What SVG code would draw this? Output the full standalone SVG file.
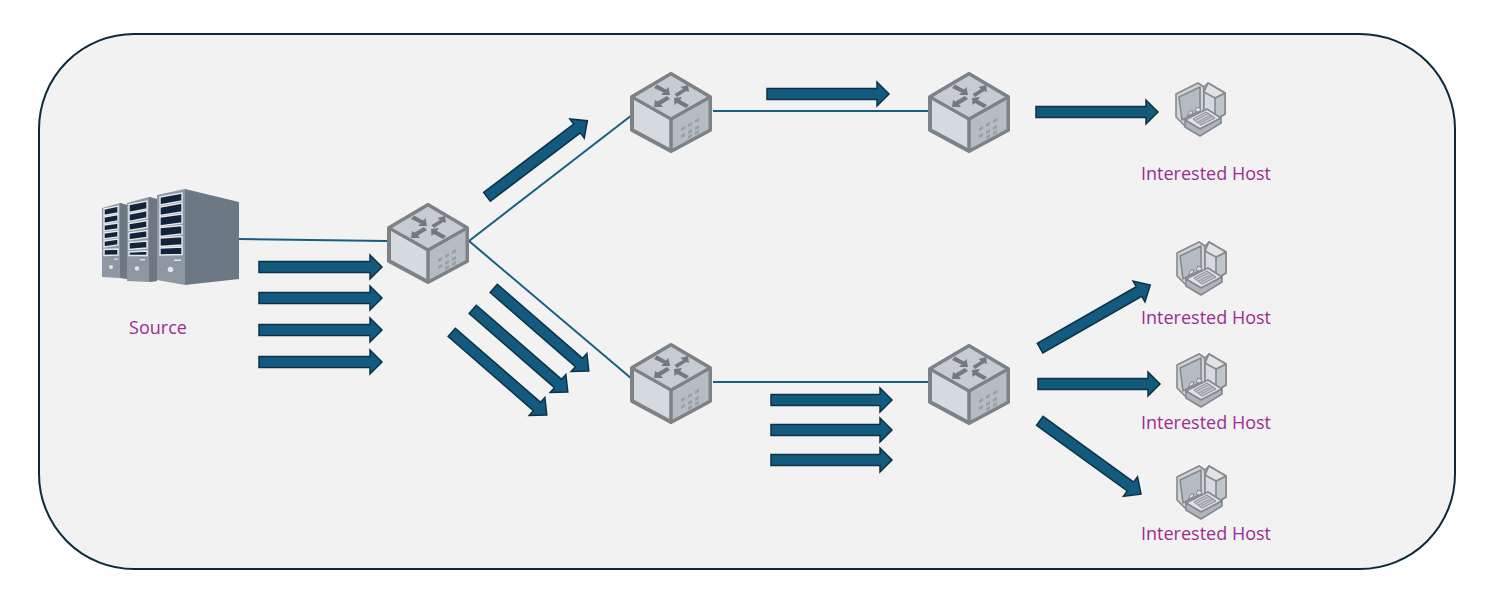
<svg xmlns="http://www.w3.org/2000/svg" xmlns:xlink="http://www.w3.org/1999/xlink" width="1499" height="600" viewBox="0 0 1499 600">
<style>
.link{stroke:#156082;stroke-width:2;fill:none}
.arr{fill:#135a7e;stroke:#0c3345;stroke-width:1.5;stroke-linejoin:miter}
.lbl{font-family:"Open Sans","Liberation Sans",sans-serif;font-size:18px;fill:#a02b93;text-anchor:middle}
.rt{fill:#c9cfd5;stroke:#7d8286;stroke-width:4;stroke-linejoin:round}
.ra{fill:#74797d;stroke:none}
.ho{stroke:#85898d;stroke-width:1.6;stroke-linejoin:round}
.slot{fill:#12233a;stroke:#e6ebef;stroke-width:1.4}
</style>
<defs>
<path id="a" d="M0-5.5H-12V5.5H0V12L12 0L0-12Z" transform="translate(0 0)"/>
<g id="router">
<path class="rt" d="M0 2L-39 25V58L0 79L39 58V25Z" style="fill:#d5dadf"/>
<path d="M0 47L39 25V58L0 79Z" style="fill:#b5bcc3;stroke:#7d8286;stroke-width:3;stroke-linejoin:round"/>
<path d="M0 2L-39 25L0 47L39 25Z" style="fill:#c6ccd2;stroke:#7d8286;stroke-width:3;stroke-linejoin:round"/>
<path d="M-39 25L0 47L39 25M0 47V79" fill="none" stroke="#7d8286" stroke-width="3"/>
<g class="ra">
<path d="M-17 16L-14 12.500L-5 17.500L-2.500 15L-1 23L-10 23L-7.500 20.500Z"/>
<path d="M17 11L18 18L15 17L6 23L3.500 20L12 15L9.500 13Z" transform="translate(0 2)"/>
<path d="M-17 35L-16 28L-13.500 29.500L-4 24L-1 27L-10 32.500L-8 35Z"/>
<path d="M3 26L11 25L9 28L18 33L15 36L6 31L3.500 33Z"/>
</g>
<g fill="#98a0a7"><path d="M10 56l4-2v3l-4 2zM17 52l4-2v3l-4 2zM24 48l4-2v3l-4 2zM10 63l4-2v3l-4 2zM17 59l4-2v3l-4 2zM24 55l4-2v3l-4 2zM17 64l4-2v3l-4 2zM24 60l4-2v3l-4 2z"/></g>
</g>
<g id="host">
<path class="ho" d="M0 11L22 0L28 4L28 33L9 43L0 34Z" fill="#ced3d8"/>
<path class="ho" d="M3 14L24 4V28L6 37Z" fill="#b4bbc2"/>
<path class="ho" d="M28 4L32 0L49 10V31L39 37L28 31Z" fill="#d5dadf"/>
<path class="ho" d="M39 15L49 10V31L39 37Z" fill="#bfc5cb"/>
<path class="ho" d="M32 0L49 10L39 15L28 9Z" fill="#e0e3e6"/>
<path class="ho" d="M9 37L31 26L45 35L24 46Z" fill="#dfe2e5"/>
<path class="ho" d="M9 37L24 46L45 35V40L24 53L9 44Z" fill="#aeb5bc"/>
<path d="M17 36L30 29L39 35L25 42Z" fill="#c2c7cc" stroke="#85898d"/>
<path d="M20 37L33 30M22 39L35 32M24 40L37 33" stroke="#85898d" stroke-width=".8"/>
<path d="M11 33L14 28H17L16 31ZM19 28L21 24L25 26L23 29Z" fill="#dfe2e5" stroke="#85898d"/>
</g>
</defs>

<rect x="39" y="34" width="1416" height="535" rx="95" ry="95" fill="#f2f2f2" stroke="#0e2a3a" stroke-width="2"/>

<g id="connectors">
<path class="link" d="M239 239L387 241"/>
<path class="link" d="M469 241L632 115"/>
<path class="link" d="M469 241L632 379"/>
<path class="link" d="M713 111H928"/>
<path class="link" d="M713 382H928"/>
</g>

<g id="flow-arrows">
<path class="arr" d="M259 261.500H370V255L382 267L370 279V272.500H259Z"/>
<path class="arr" d="M259 292.500H370V286L382 298L370 310V303.500H259Z"/>
<path class="arr" d="M259 324.500H370V318L382 330L370 342V335.500H259Z"/>
<path class="arr" d="M259 356.500H370V350L382 362L370 374V367.500H259Z"/>
<path class="arr" d="M0-5.500H-113V5.500H0V12L13 0L0-12Z" transform="translate(577 128.500) rotate(-37.200)"/>
<path class="arr" d="M0-5.500H-113V5.500H0V12L13 0L0-12Z" transform="translate(579 362.500) rotate(41)"/>
<path class="arr" d="M0-5.500H-113V5.500H0V12L13 0L0-12Z" transform="translate(558 383.500) rotate(41)"/>
<path class="arr" d="M0-5.500H-113V5.500H0V12L13 0L0-12Z" transform="translate(537 406.500) rotate(41)"/>
<path class="arr" d="M767 88.500H877V82L889 94L877 106V99.500H767Z"/>
<path class="arr" d="M1036 106.500H1146V100L1158 112L1146 124V117.500H1036Z"/>
<path class="arr" d="M771 394.500H880V388L892 400L880 412V405.500H771Z"/>
<path class="arr" d="M771 424.500H880V418L892 430L880 442V435.500H771Z"/>
<path class="arr" d="M771 454.500H880V448L892 460L880 472V465.500H771Z"/>
<path class="arr" d="M0-5.500H-114V5.500H0V12L13 0L0-12Z" transform="translate(1139 291.500) rotate(-29.800)"/>
<path class="arr" d="M1038 378.500H1148V372L1160 384L1148 396V389.500H1038Z"/>
<path class="arr" d="M0-5.500H-112V5.500H0V12L13 0L0-12Z" transform="translate(1130.500 486.500) rotate(35.900)"/>
</g>

<g id="source">
<path d="M102 208L120 203L127 205V278L120 278L102 277Z" fill="#8d98a2"/>
<path d="M120 203L127 205V279L120 278Z" fill="#6d7883"/>
<path d="M127 203L149 197L157 199V281L149 282L127 281Z" fill="#8d98a2"/>
<path d="M149 197L157 199V281L149 282Z" fill="#6d7883"/>
<path d="M157 195L185 189V285L157 280Z" fill="#8d98a2"/>
<path d="M185 189L239 202V279L185 285Z" fill="#6c7884"/>
<g class="slot">
<path d="M104 209L118 206V213L104 215.500Z"/><path d="M104 217L118 214.500V221L104 223.500Z"/><path d="M104 225L118 223V229L104 231Z"/><path d="M104 233L118 231V237L104 239Z"/><path d="M104 241L118 239V245L104 247Z"/><path d="M104 249.500L118 249V255L104 255.500Z"/>
<path d="M129 204.500L147 201V209L129 212.500Z"/><path d="M129 214L147 210.500V218L129 221.500Z"/><path d="M129 223.500L147 220.500V227.500L129 230.500Z"/><path d="M129 233L147 230.500V237.500L129 240Z"/><path d="M129 242.500L147 241V248L129 249.500Z"/><path d="M129 252L147 251V254.500L147 255.500L129 255.500Z"/>
<path d="M160 197L182 193V201L160 205Z"/><path d="M160 207L182 203V212L160 215.500Z"/><path d="M160 217L182 214V223L160 226Z"/><path d="M160 227.500L182 225.500V234L160 236.500Z"/><path d="M160 238L182 236.500V245L160 246.500Z"/><path d="M160 248L182 247V254.500L160 255Z"/>
</g>
<g fill="#dfe5ea"><circle cx="111" cy="267" r="2"/><circle cx="137" cy="268.500" r="2.200"/><circle cx="170.500" cy="269.500" r="2.800"/>
<rect x="114" y="258.500" width="4" height="1.200"/><rect x="140" y="259" width="5" height="1.400"/><rect x="174" y="259.500" width="7" height="1.500"/></g>
</g>

<g id="router-1"><use xlink:href="#router" href="#router" transform="translate(428 203)"/></g>
<g id="router-2"><use xlink:href="#router" href="#router" transform="translate(671 72)"/></g>
<g id="router-3"><use xlink:href="#router" href="#router" transform="translate(969 72)"/></g>
<g id="router-4"><use xlink:href="#router" href="#router" transform="translate(671 343)"/></g>
<g id="router-5"><use xlink:href="#router" href="#router" transform="translate(969 344)"/></g>

<g id="host-1"><use xlink:href="#host" href="#host" transform="translate(1176 83)"/></g>
<g id="host-2"><use xlink:href="#host" href="#host" transform="translate(1177 242)"/></g>
<g id="host-3"><use xlink:href="#host" href="#host" transform="translate(1177 354)"/></g>
<g id="host-4"><use xlink:href="#host" href="#host" transform="translate(1177 466)"/></g>

<g id="labels">
<text class="lbl" x="158" y="334">Source</text>
<text class="lbl" x="1206" y="180">Interested Host</text>
<text class="lbl" x="1206" y="324">Interested Host</text>
<text class="lbl" x="1206" y="429">Interested Host</text>
<text class="lbl" x="1206" y="540">Interested Host</text>
</g>
</svg>
